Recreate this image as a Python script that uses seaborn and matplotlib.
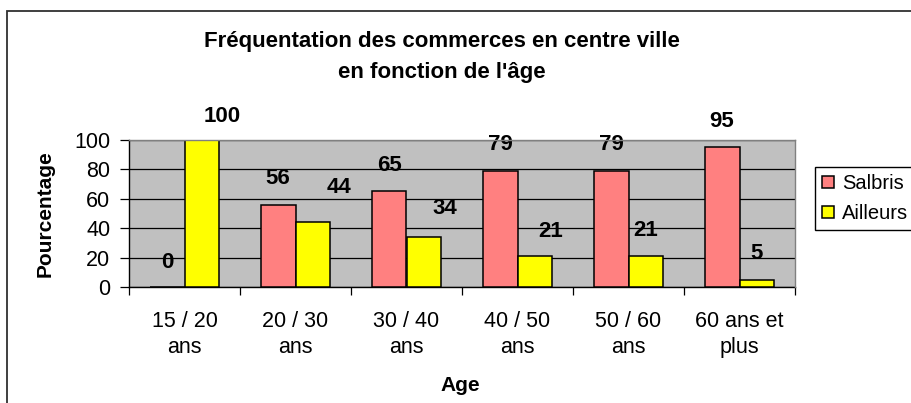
import numpy as np
import pandas as pd
import matplotlib
matplotlib.use("Agg")
import matplotlib.pyplot as plt
from matplotlib.patches import Rectangle
import seaborn as sns

################################################################################
# data
################################################################################

age_groups = ["15 / 20\nans", "20 / 30\nans", "30 / 40\nans",
              "40 / 50\nans", "50 / 60\nans", "60 ans et\nplus"]
salbris = [0, 56, 65, 79, 79, 95]
ailleurs = [100, 44, 34, 21, 21, 5]
series = ["Salbris", "Ailleurs"]

# label nudges (pixels) : the yellow labels were dragged by hand in the original
label_dx = {"Salbris": [0, 0, 0, 0, 0, 0], "Ailleurs": [20, 26, 21, 16, 0, 0]}
label_dy = {"Salbris": [25, 26, 26, 26, 26, 26], "Ailleurs": [24, 35, 29, 25, 26, 26]}

df = pd.DataFrame({
    "Age": age_groups * 2,
    "Lieu": [series[0]] * len(age_groups) + [series[1]] * len(age_groups),
    "Pourcentage": salbris + ailleurs,
})

################################################################################
# draw the plot
################################################################################

plt.rcParams["font.family"] = ["Liberation Sans", "DejaVu Sans"]

W, H = 911, 403
fig = plt.figure(figsize=(W / 100, H / 100), dpi=100)
ax = fig.add_axes([129 / W, 1 - 287 / H, 666 / W, 147 / H])

sns.barplot(data=df, x="Age", y="Pourcentage", hue="Lieu", hue_order=series,
            palette=["#FF8080", "#FFFF00"], width=0.63, edgecolor="black",
            linewidth=1.1, saturation=1, ax=ax, zorder=3)

ax.set_facecolor("#C0C0C0")
ax.set_ylim(0, 100)
ax.set_xlim(-0.5, len(age_groups) - 0.5)
ax.set_yticks([0, 20, 40, 60, 80, 100])
ax.set_axisbelow(True)
ax.yaxis.grid(True, color="black", linewidth=0.9)
ax.xaxis.grid(False)

for side in ["left", "bottom"]:
    ax.spines[side].set_color("black")
    ax.spines[side].set_linewidth(1)
for side in ["top", "right"]:
    ax.spines[side].set_color("#808080")
    ax.spines[side].set_linewidth(1)
    ax.spines[side].set_zorder(4)

# ticks: y outside, x only at category boundaries
ax.tick_params(axis="y", length=6.5, width=0.9, pad=7, labelsize=15.5)
ax.tick_params(axis="x", which="major", length=0, pad=17, labelsize=15.5)
ax.set_xticks(np.arange(-0.5, len(age_groups)), minor=True)
ax.tick_params(axis="x", which="minor", length=6, width=0.9)
for lab in ax.get_xticklabels():
    lab.set_linespacing(1.35)

ax.set_xlabel("Age", fontsize=15, fontweight="bold", va="center")
ax.xaxis.set_label_coords(0.498, -0.673)
ax.set_ylabel("Pourcentage", fontsize=15, fontweight="bold", va="center")
ax.yaxis.set_label_coords(-0.126, 0.5)

# value labels above the bars
for cont, name in zip(ax.containers, series):
    vals = salbris if name == "Salbris" else ailleurs
    for i, (bar, v) in enumerate(zip(cont, vals)):
        ax.annotate(str(v), (bar.get_x() + bar.get_width() / 2, bar.get_height()),
                    xytext=(label_dx[name][i] * 0.72, label_dy[name][i] * 0.72),
                    textcoords="offset points", ha="center", va="center",
                    fontsize=16, fontweight="bold", annotation_clip=False)

# legend
handles, labels = ax.get_legend_handles_labels()
ax.legend(handles, labels, loc="upper left", bbox_to_anchor=(815 / W, 1 - 167 / H),
          bbox_transform=fig.transFigure, fontsize=14.5, frameon=True, fancybox=False,
          edgecolor="black", framealpha=1, borderpad=0.35, labelspacing=0.55,
          handlelength=0.6, handleheight=0.6, handletextpad=0.4, borderaxespad=0)
ax.get_legend().get_frame().set_linewidth(1)

# title
fig.text(442 / W, 1 - 57 / H, "Fréquentation des commerces en centre ville\nen fonction de l'âge",
         ha="center", va="center", fontsize=16, fontweight="bold", linespacing=1.65)

# chart border
fig.add_artist(Rectangle((7 / W, -0.05), 1.1, 1.05 - 11 / H, transform=fig.transFigure,
                         fill=False, edgecolor="#303030", linewidth=1.3))

fig.savefig("out.png", dpi=100)
